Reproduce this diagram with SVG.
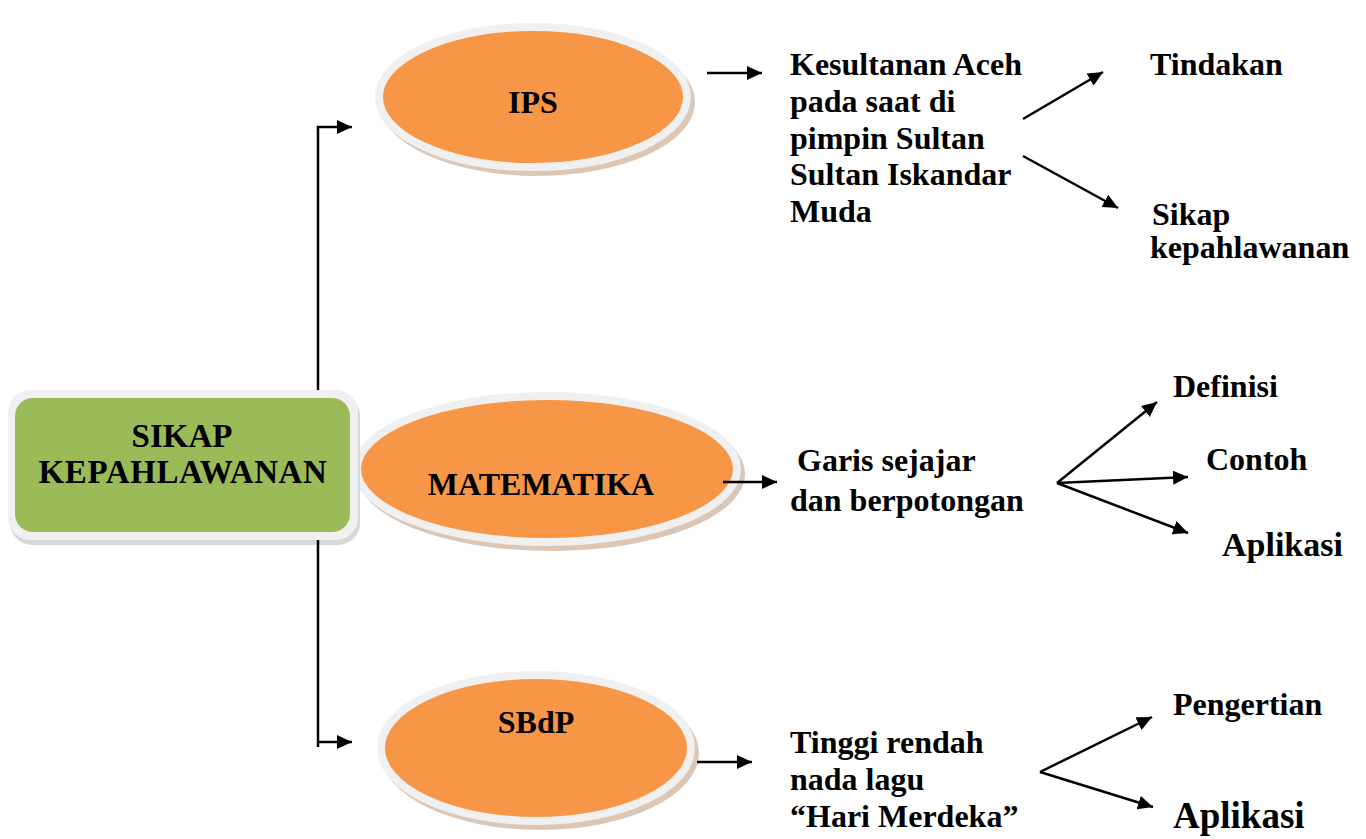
<svg xmlns="http://www.w3.org/2000/svg" width="1366" height="839" viewBox="0 0 1366 839">
<defs>
<style>
.t{font-family:"Liberation Serif","Times New Roman",serif;font-weight:bold;font-size:32px;fill:#000}
.c{stroke:#000;stroke-width:2.5;fill:none}
.ell{fill:#f79646;stroke:#f0f0f0;stroke-width:8}
.sh{fill:#dcc7b6}
</style>
<marker id="ah" markerUnits="userSpaceOnUse" markerWidth="16" markerHeight="14" refX="15" refY="7" orient="auto">
<path d="M0,0 L15,7 L0,14 z" fill="#000"/>
</marker>
</defs>
<rect width="1366" height="839" fill="#fff"/>

<g id="node-ips">
<ellipse class="sh" cx="537" cy="102" rx="158" ry="74"/>
<ellipse class="ell" cx="533" cy="97" rx="154" ry="70"/>
<text class="t" x="533" y="113" text-anchor="middle">IPS</text>
</g>

<g id="node-matematika">
<ellipse class="sh" cx="551" cy="474" rx="194" ry="77"/>
<ellipse class="ell" cx="547" cy="469" rx="190" ry="73"/>
<text class="t" x="541" y="495" text-anchor="middle">MATEMATIKA</text>
</g>

<g id="node-sbdp">
<ellipse class="sh" cx="540" cy="753" rx="159" ry="77"/>
<ellipse class="ell" cx="536" cy="748" rx="155" ry="73"/>
<text class="t" x="536" y="733" text-anchor="middle">SBdP</text>
</g>

<g id="node-sikap">
<rect x="10" y="394" width="350" height="151" rx="22" fill="#d8d8d8"/>
<rect x="8" y="390" width="350" height="150" rx="22" fill="#f0f0f0"/>
<rect x="15" y="398" width="335" height="134" rx="18" fill="#9bbb59"/>
<text class="t" x="182" y="447" text-anchor="middle" style="font-size:33px">SIKAP</text>
<text class="t" x="183" y="483" text-anchor="middle" style="font-size:33px;letter-spacing:0.6px">KEPAHLAWANAN</text>
</g>

<g id="text-ips">
<text class="t" x="790" y="75">Kesultanan Aceh</text>
<text class="t" x="790" y="112">pada saat di</text>
<text class="t" x="790" y="149">pimpin Sultan</text>
<text class="t" x="790" y="185">Sultan Iskandar</text>
<text class="t" x="790" y="222">Muda</text>
</g>
<g id="text-tindakan"><text class="t" x="1150" y="75">Tindakan</text></g>
<g id="text-sikap2">
<text class="t" x="1152" y="225">Sikap</text>
<text class="t" x="1150" y="258">kepahlawanan</text>
</g>

<g id="text-mat">
<text class="t" x="797" y="471">Garis sejajar</text>
<text class="t" x="790" y="511">dan berpotongan</text>
</g>
<g id="text-definisi"><text class="t" x="1173" y="397">Definisi</text></g>
<g id="text-contoh"><text class="t" x="1206" y="470">Contoh</text></g>
<g id="text-aplikasi1"><text class="t" x="1222" y="556" style="font-size:34px">Aplikasi</text></g>

<g id="text-sbdp">
<text class="t" x="790" y="753">Tinggi rendah</text>
<text class="t" x="790" y="790">nada lagu</text>
<text class="t" x="790" y="827">“Hari Merdeka”</text>
</g>
<g id="text-pengertian"><text class="t" x="1173" y="715">Pengertian</text></g>
<g id="text-aplikasi2"><text class="t" x="1173" y="828" style="font-size:37px">Aplikasi</text></g>

<g id="connectors">
<path class="c" d="M318,390 V127 H352" marker-end="url(#ah)"/>
<path class="c" d="M318,540 V747"/>
<path class="c" d="M318,742 H352" marker-end="url(#ah)"/>
<path class="c" d="M707,73 H762" marker-end="url(#ah)"/>
<path class="c" d="M723,482 H777" marker-end="url(#ah)"/>
<path class="c" d="M697,762 H752" marker-end="url(#ah)"/>
<path class="c" d="M1023,119 L1103,72" marker-end="url(#ah)"/>
<path class="c" d="M1023,156 L1118,208" marker-end="url(#ah)"/>
<path class="c" d="M1057,483 L1157,402" marker-end="url(#ah)"/>
<path class="c" d="M1057,483 L1188,477" marker-end="url(#ah)"/>
<path class="c" d="M1057,483 L1188,533" marker-end="url(#ah)"/>
<path class="c" d="M1040,772 L1152,717" marker-end="url(#ah)"/>
<path class="c" d="M1040,772 L1153,807" marker-end="url(#ah)"/>
</g>
</svg>
